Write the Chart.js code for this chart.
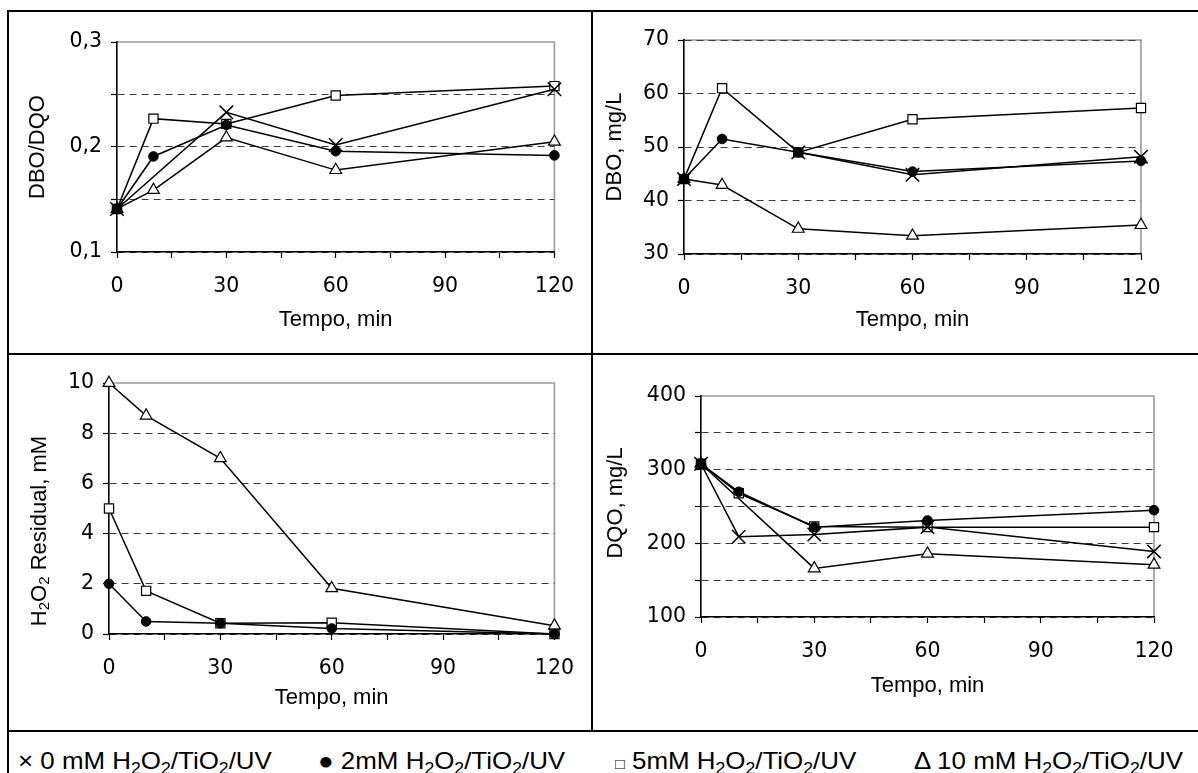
<!DOCTYPE html>
<html><head><meta charset="utf-8">
<script src="https://cdn.jsdelivr.net/npm/chart.js@4.4.0/dist/chart.umd.min.js"></script>
<style>
html,body{margin:0;padding:0;background:#fff;}
body{width:1198px;height:773px;position:relative;overflow:hidden;font-family:"Liberation Sans",Arial,sans-serif;}
.ln{position:absolute;background:#000;}
canvas{position:absolute;}
.leg{position:absolute;top:749px;font-size:24px;line-height:24px;white-space:nowrap;color:#000;transform:scaleX(1.08);transform-origin:0 0;}
.leg sub{font-size:0.68em;vertical-align:-0.28em;line-height:0;}
</style></head><body>
<div class="ln" style="left:7px;top:10px;width:1191px;height:2px"></div>
<div class="ln" style="left:7px;top:10px;width:2px;height:763px"></div>
<div class="ln" style="left:591px;top:10px;width:2px;height:722px"></div>
<div class="ln" style="left:7px;top:353px;width:1191px;height:2px"></div>
<div class="ln" style="left:7px;top:730px;width:1191px;height:2px"></div>

<canvas id="c1" width="580" height="340" style="left:10px;top:13px"></canvas>
<canvas id="c2" width="600" height="340" style="left:596px;top:13px"></canvas>
<canvas id="c3" width="580" height="372" style="left:10px;top:357px"></canvas>
<canvas id="c4" width="600" height="372" style="left:596px;top:357px"></canvas>
<div id="legend"></div>

<script>
// ---------- data ----------
const times = [0, 10, 30, 60, 120];
const xTickValues = [0, 15, 30, 45, 60, 75, 90, 105, 120];
const xTickLabels = ['0', '', '30', '', '60', '', '90', '', '120'];

const seriesSymbols = ['×', '●', '□', 'Δ'];
const seriesDoses = ['0 mM', '2mM', '5mM', '10 mM'];

// DBO/DQO
const ratioTicks = [0.1, 0.15, 0.2, 0.25, 0.3];
const ratioTickLabels = ['0,1', '', '0,2', '', '0,3'];
const ratio0mM = [0.141, null, 0.233, 0.202, 0.255];
const ratio2mM = [0.141, 0.191, 0.221, 0.196, 0.192];
const ratio5mM = [0.141, 0.227, 0.222, 0.249, 0.258];
const ratio10mM = [0.141, 0.159, 0.209, 0.178, 0.205];

// DBO, mg/L
const dboTicks = [30, 40, 50, 60, 70];
const dboTickLabels = ['30', '40', '50', '60', '70'];
const dbo0mM = [44, null, 49, 44.8, 48.2];
const dbo2mM = [44, 51.5, 49, 45.4, 47.4];
const dbo5mM = [44, 61, 49, 55.2, 57.3];
const dbo10mM = [44, 42.9, 34.7, 33.4, 35.4];

// H2O2 residual, mM
const h2o2Ticks = [0, 2, 4, 6, 8, 10];
const h2o2TickLabels = ['0', '2', '4', '6', '8', '10'];
const h2o2_2mM = [2.0, 0.5, 0.43, 0.22, 0];
const h2o2_5mM = [5.0, 1.72, 0.43, 0.45, 0];
const h2o2_10mM = [10, 8.7, 7.0, 1.82, 0.33];

// DQO, mg/L
const dqoTicks = [100, 150, 200, 250, 300, 350, 400];
const dqoTickLabels = ['100', '', '200', '', '300', '', '400'];
const dqo0mM = [308, 209, 212, 222, 189];
const dqo2mM = [308, 270, 222, 231, 245];
const dqo5mM = [308, 268, 223, 222, 222];
const dqo10mM = [308, null, 166, 186, 171];

// ---------- styles ----------
const FONT = '"Liberation Sans", Arial, sans-serif';
const TICKFONT = {family: '"DejaVu Sans", Verdana, sans-serif', size: 20.5};
Chart.defaults.font.family = FONT;
Chart.defaults.font.size = 22;
Chart.defaults.color = '#000';

const markers = {
  x:   {pointStyle: 'crossRot', pointRadius: 9.5, pointBackgroundColor: '#000', pointBorderWidth: 1.5, order: 1},
  dot: {pointStyle: 'circle', pointRadius: 4.8, pointBackgroundColor: '#000', pointBorderWidth: 1, order: 0},
  sq:  {pointStyle: 'rect', pointRadius: 6.5, pointBackgroundColor: '#fff', pointBorderWidth: 1.2, order: 2},
  tri: {pointStyle: 'triangle', pointRadius: 6.8, pointBackgroundColor: '#fff', pointBorderWidth: 1.2, order: 3}
};

function ds(kind, values, spanGaps) {
  return Object.assign({
    data: times.map((t, i) => ({x: t, y: values[i]})),
    borderColor: '#000', pointBorderColor: '#000', borderWidth: 1.5,
    fill: false, tension: 0, spanGaps: !!spanGaps, clip: false
  }, markers[kind]);
}

const frame = {
  id: 'frame',
  beforeDraw(chart) {
    const {ctx, chartArea: a} = chart;
    ctx.save();
    ctx.strokeStyle = '#999'; ctx.lineWidth = 1.6;
    ctx.beginPath(); ctx.moveTo(a.left, a.top); ctx.lineTo(a.right, a.top); ctx.lineTo(a.right, a.bottom);
    ctx.stroke(); ctx.restore();
  }
};

const yTitle = {
  id: 'yTitle',
  afterDraw(chart, args, o) {
    const ctx = chart.ctx;
    ctx.save();
    ctx.translate(o.x, o.y); ctx.rotate(-Math.PI / 2);
    ctx.fillStyle = '#000'; ctx.textBaseline = 'middle'; ctx.textAlign = 'left';
    const big = '22px ' + FONT, small = '15px ' + FONT;
    let w = 0;
    o.parts.forEach(p => { ctx.font = p.sub ? small : big; w += ctx.measureText(p.t).width; });
    let x = -w / 2;
    o.parts.forEach(p => {
      ctx.font = p.sub ? small : big;
      ctx.fillText(p.t, x, p.sub ? 5 : 0);
      x += ctx.measureText(p.t).width;
    });
    ctx.restore();
  }
};

function makeChart(id, g) {
  const yMax = g.yTicks[g.yTicks.length - 1];
  return new Chart(document.getElementById(id), {
    type: 'line',
    data: {datasets: g.datasets},
    plugins: [frame, yTitle],
    options: {
      responsive: false, animation: false, events: [],
      layout: {padding: {top: g.padTop, right: g.padRight, left: 0, bottom: 0}},
      plugins: {legend: {display: false}, tooltip: {enabled: false}, yTitle: {parts: g.yTitle, x: g.tx, y: g.ty}},
      scales: {
        x: {
          type: 'linear', min: 0, max: 120,
          afterBuildTicks: s => { s.ticks = xTickValues.map(v => ({value: v})); },
          afterFit: s => { s.height = g.xHeight; },
          ticks: {callback: (v, i) => xTickLabels[i], padding: 16, maxRotation: 0, autoSkip: false, font: TICKFONT},
          grid: {drawOnChartArea: false, drawTicks: true, tickLength: 6, tickColor: '#000', tickWidth: 1.2},
          border: {color: '#000', width: 1.6},
          title: {display: true, text: 'Tempo, min', font: {size: 22}, padding: {top: 0, bottom: g.xTitlePad}}
        },
        y: {
          type: 'linear', min: g.yTicks[0], max: yMax,
          afterBuildTicks: s => { s.ticks = g.yTicks.map(v => ({value: v})); },
          afterFit: s => { s.width = g.yWidth; },
          ticks: {callback: (v, i) => g.yLabels[i], padding: 9, autoSkip: false, font: TICKFONT},
          grid: {
            color: c => (c.tick && c.tick.value === yMax && !g.dashTop) ? 'rgba(0,0,0,0)' : '#3a3a3a',
            lineWidth: 1, tickLength: 6, tickColor: '#000', tickWidth: 1.2
          },
          border: {color: '#000', width: 1.6, dash: [7, 5]}
        }
      }
    }
  });
}

makeChart('c1', {
  yTicks: ratioTicks, yLabels: ratioTickLabels,
  datasets: [ds('x', ratio0mM, true), ds('dot', ratio2mM), ds('sq', ratio5mM), ds('tri', ratio10mM)],
  padTop: 29, padRight: 34, yWidth: 107, xHeight: 101, xTitlePad: 20,
  yTitle: [{t: 'DBO/DQO'}], tx: 28, ty: 134
});
makeChart('c2', {
  yTicks: dboTicks, yLabels: dboTickLabels, dashTop: true,
  datasets: [ds('x', dbo0mM, false), ds('dot', dbo2mM), ds('sq', dbo5mM), ds('tri', dbo10mM)],
  padTop: 27, padRight: 55, yWidth: 88, xHeight: 99, xTitlePad: 20,
  yTitle: [{t: 'DBO, mg/L'}], tx: 19, ty: 134
});
makeChart('c3', {
  yTicks: h2o2Ticks, yLabels: h2o2TickLabels,
  datasets: [ds('dot', h2o2_2mM), ds('sq', h2o2_5mM), ds('tri', h2o2_10mM)],
  padTop: 26, padRight: 34, yWidth: 99, xHeight: 95, xTitlePad: 18,
  yTitle: [{t: 'H'}, {t: '2', sub: true}, {t: 'O'}, {t: '2', sub: true}, {t: ' Residual, mM'}], tx: 30, ty: 174
});
makeChart('c4', {
  yTicks: dqoTicks, yLabels: dqoTickLabels,
  datasets: [ds('x', dqo0mM), ds('dot', dqo2mM), ds('sq', dqo5mM), ds('tri', dqo10mM, true)],
  padTop: 39, padRight: 42, yWidth: 105, xHeight: 112, xTitlePad: 30,
  yTitle: [{t: 'DQO, mg/L'}], tx: 20, ty: 146
});

// ---------- legend ----------
const legendLeft = [18, 318, 615, 914];
const legendSymbolSize = ['24px', '24px', '15px', '24px'];
const legend = document.getElementById('legend');
seriesSymbols.forEach((s, i) => {
  const d = document.createElement('div');
  d.className = 'leg';
  d.style.left = legendLeft[i] + 'px';
  d.innerHTML = '<span style="font-size:' + legendSymbolSize[i] + '">' + s + '</span> ' + seriesDoses[i] +
    ' H<sub>2</sub>O<sub>2</sub>/TiO<sub>2</sub>/UV';
  legend.appendChild(d);
});
</script>
</body></html>
